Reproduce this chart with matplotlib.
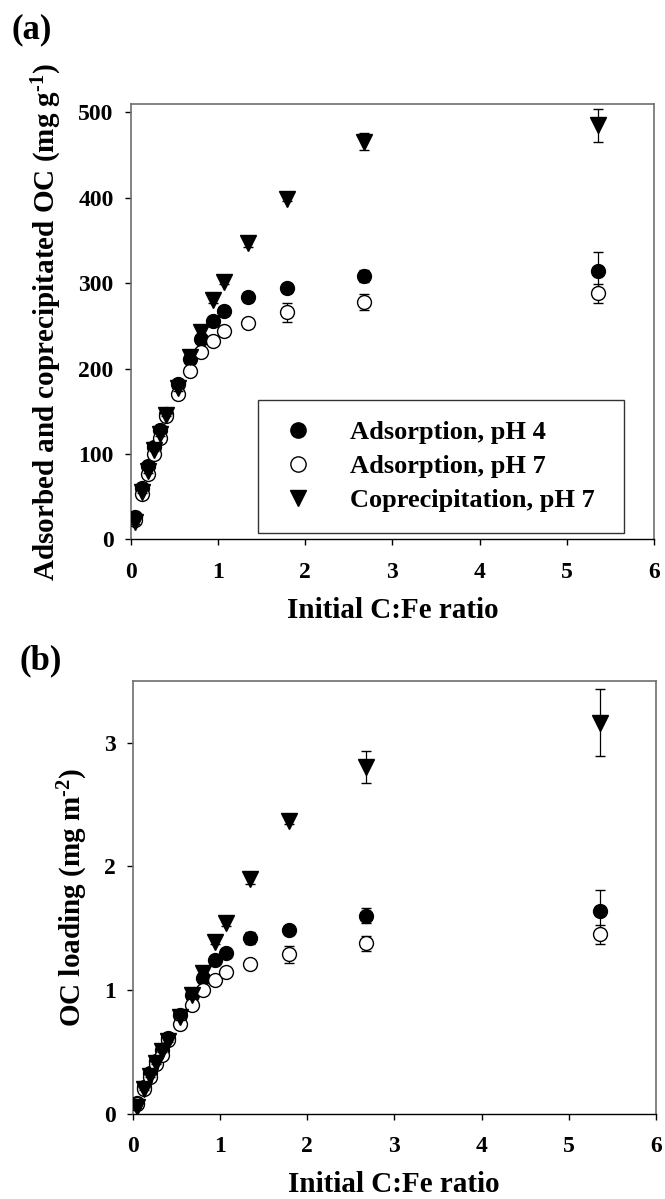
import matplotlib
matplotlib.use("Agg")
import matplotlib.pyplot as plt
import numpy as np

plt.rcParams['font.family'] = ['Liberation Serif', 'DejaVu Serif']
plt.rcParams['font.weight'] = 'bold'
plt.rcParams['mathtext.fontset'] = 'custom'
plt.rcParams['mathtext.rm'] = 'Liberation Serif:bold'
plt.rcParams['mathtext.bf'] = 'Liberation Serif:bold'
plt.rcParams['mathtext.it'] = 'Liberation Serif:bold'

# ---- data ----
cfe_ratio = [0.054, 0.135, 0.2, 0.268, 0.335, 0.405, 0.54, 0.675, 0.81, 0.94, 1.075, 1.35, 1.79, 2.68, 5.36]

# panel (a): mg g-1
ads_ph4_a = [26, 60, 86, 108, 128, 147, 182, 211, 235, 256, 267, 284, 294, 309, 314]
ads_ph4_a_err = [2, 2, 2, 2, 2, 2, 3, 3, 3, 3, 3, 6, 4, 7, 22]
ads_ph7_a = [23, 53, 77, 100, 119, 144, 170, 197, 219, 232, 244, 253, 266, 278, 288]
ads_ph7_a_err = [2, 2, 2, 2, 2, 2, 3, 3, 3, 3, 3, 4, 11, 9, 11]
copr_ph7_a = [20, 56, 80, 105, 123, 146, 177, 213, 243, 280, 302, 347, 399, 466, 485]
copr_ph7_a_err = [2, 2, 2, 2, 2, 2, 3, 3, 3, 3, 3, 4, 3, 10, 19]

# panel (b): mg m-2
ads_ph4_b = [0.086, 0.22, 0.33, 0.43, 0.52, 0.61, 0.80, 0.96, 1.10, 1.24, 1.30, 1.42, 1.49, 1.60, 1.64]
ads_ph4_b_err = [0.01, 0.01, 0.01, 0.01, 0.01, 0.01, 0.02, 0.02, 0.02, 0.02, 0.02, 0.05, 0.03, 0.06, 0.17]
ads_ph7_b = [0.077, 0.20, 0.30, 0.40, 0.48, 0.60, 0.73, 0.88, 1.00, 1.08, 1.15, 1.21, 1.29, 1.38, 1.45]
ads_ph7_b_err = [0.01, 0.01, 0.01, 0.01, 0.01, 0.01, 0.02, 0.02, 0.02, 0.02, 0.02, 0.03, 0.07, 0.06, 0.08]
copr_ph7_b = [0.06, 0.20, 0.31, 0.41, 0.51, 0.59, 0.78, 0.96, 1.14, 1.39, 1.54, 1.90, 2.37, 2.80, 3.16]
copr_ph7_b_err = [0.01, 0.01, 0.01, 0.01, 0.01, 0.01, 0.02, 0.02, 0.02, 0.02, 0.02, 0.04, 0.03, 0.13, 0.27]

labels = ["Adsorption, pH 4", "Adsorption, pH 7", "Coprecipitation, pH 7"]
xticks = [0, 1, 2, 3, 4, 5, 6]
yticks_a = [0, 100, 200, 300, 400, 500]
yticks_b = [0, 1, 2, 3]

fig = plt.figure(figsize=(6.65, 11.99), dpi=100)
ax_a = fig.add_axes([0.1965, 0.5502, 0.7869, 0.3631])
ax_b = fig.add_axes([0.1995, 0.0709, 0.7869, 0.3614])

TICK_FS = 17
LABEL_FS = 21

def draw(ax, y4, e4, y7, e7, yc, ec, ylim, yticks, ylabel, legend):
    ekw = dict(ecolor='black', elinewidth=0.9, capsize=3.8, capthick=0.9, linestyle='none')
    h1 = ax.errorbar(cfe_ratio, y4, yerr=e4, marker='o', ms=10, mfc='black', mec='black',
                     mew=1.0, zorder=3, label=labels[0], **ekw)
    h2 = ax.errorbar(cfe_ratio, y7, yerr=e7, marker='o', ms=10, mfc='white', mec='black',
                     mew=1.0, zorder=4, label=labels[1], **ekw)
    h3 = ax.errorbar(cfe_ratio, yc, yerr=ec, marker='v', ms=11, mfc='black', mec='black',
                     mew=1.0, zorder=5, label=labels[2], **ekw)
    ax.set_xlim(0, 6)
    ax.set_ylim(*ylim)
    ax.set_xticks(xticks)
    ax.set_yticks(yticks)
    ax.tick_params(direction='out', length=4.2, width=1.0, labelsize=TICK_FS, color='black')
    ax.tick_params(axis='x', pad=12)
    ax.tick_params(axis='y', pad=8)
    for lab in ax.get_xticklabels() + ax.get_yticklabels():
        lab.set_fontweight('bold')
    for s in ['top', 'right', 'left']:
        ax.spines[s].set_color('#6e6e6e')
        ax.spines[s].set_linewidth(1.2)
    ax.spines['bottom'].set_color('black')
    ax.spines['bottom'].set_linewidth(1.0)
    ax.set_xlabel("Initial C:Fe ratio", fontsize=LABEL_FS, fontweight='bold', labelpad=10)
    ax.set_ylabel(ylabel, fontsize=LABEL_FS, fontweight='bold', labelpad=10)
    if legend:
        handles = [h1[0], h2[0], h3[0]]
        leg = ax.legend(handles, labels, loc='lower left',
                        bbox_to_anchor=(0.243, 0.0145, 0.70, 0.3035), mode='expand',
                        fontsize=19, frameon=True, fancybox=False, borderaxespad=0,
                        handletextpad=1.2, handlelength=1.5, labelspacing=0.4,
                        borderpad=0.78, markerscale=1.1)
        fr = leg.get_frame()
        fr.set_edgecolor('black')
        fr.set_linewidth(1.0)
        for t in leg.get_texts():
            t.set_fontweight('bold')

draw(ax_a, ads_ph4_a, ads_ph4_a_err, ads_ph7_a, ads_ph7_a_err, copr_ph7_a, copr_ph7_a_err,
     (0, 510), yticks_a, "Adsorbed and coprecipitated OC (mg g$^{\u20101}$)", True)
draw(ax_b, ads_ph4_b, ads_ph4_b_err, ads_ph7_b, ads_ph7_b_err, copr_ph7_b, copr_ph7_b_err,
     (0, 3.5), yticks_b, "OC loading (mg m$^{\u20102}$)", False)

fig.text(0.018, 0.975, "(a)", fontsize=25, fontweight='bold', va='center', ha='left')
fig.text(0.03, 0.449, "(b)", fontsize=25, fontweight='bold', va='center', ha='left')

fig.savefig("out.png", dpi=100)
